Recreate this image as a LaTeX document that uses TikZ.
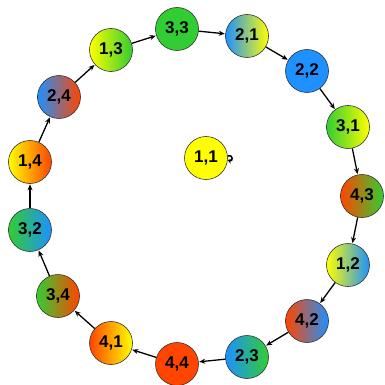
\documentclass[tikz,border=0pt]{standalone}
\usepackage{fontspec}
\setmainfont{Liberation Sans}
\usetikzlibrary{arrows.meta}
\definecolor{cA}{HTML}{FFFF00}
\definecolor{cB}{HTML}{1E90FF}
\definecolor{cC}{HTML}{32CD32}
\definecolor{cD}{HTML}{FF4500}
\tikzset{
  vtx/.style={circle, draw=black!80, line width=0.6pt, minimum size=43pt, inner sep=0pt, font=\fontsize{17}{17}\selectfont\bfseries},
  arr/.style={-{Stealth[length=6pt,width=5pt]}, line width=1.3pt, shorten >=0.5pt},
}
\begin{document}
\begin{tikzpicture}[x=1pt,y=-1pt]
\useasboundingbox (0,0) rectangle (385,385);
\node[vtx, fill=cA] (n11) at (206,158) {1,1};
\node[vtx, left color=cC, right color=cC] (n33) at (177,29) {3,3};
\node[vtx, left color=cB, right color=cA] (n21) at (247,36) {2,1};
\node[vtx, fill=cB] (n22) at (307,71) {2,2};
\node[vtx, left color=cC, right color=cA] (n31) at (348,127) {3,1};
\node[vtx, left color=cD, right color=cC] (n43) at (362,196) {4,3};
\node[vtx, left color=cA, right color=cB] (n12) at (348,265) {1,2};
\node[vtx, left color=cD, right color=cB] (n42) at (307,321) {4,2};
\node[vtx, left color=cB, right color=cC] (n23) at (247,357) {2,3};
\node[vtx, fill=cD] (n44) at (177,364) {4,4};
\node[vtx, left color=cD, right color=cA] (n41) at (111,343) {4,1};
\node[vtx, left color=cC, right color=cD] (n34) at (58,296) {3,4};
\node[vtx, left color=cC, right color=cB] (n32) at (30,230) {3,2};
\node[vtx, left color=cA, right color=cD] (n14) at (30,162) {1,4};
\node[vtx, left color=cB, right color=cD] (n24) at (59,97) {2,4};
\node[vtx, left color=cA, right color=cC] (n13) at (111,50) {1,3};
\draw[arr] (n13) -- (n33);
\draw[arr] (n33) -- (n21);
\draw[arr] (n21) -- (n22);
\draw[arr] (n22) -- (n31);
\draw[arr] (n31) -- (n43);
\draw[arr] (n43) -- (n12);
\draw[arr] (n12) -- (n42);
\draw[arr] (n42) -- (n23);
\draw[arr] (n23) -- (n44);
\draw[arr] (n44) -- (n41);
\draw[arr] (n41) -- (n34);
\draw[arr] (n34) -- (n32);
\draw[arr] (n32) -- (n14);
\draw[arr] (n14) -- (n24);
\draw[arr] (n24) -- (n13);
\draw[-{Stealth[length=4pt,width=5pt]}, line width=1.5pt] (n11.5) .. controls +(6,-2) and +(5,2) .. (n11.-5);
\end{tikzpicture}
\end{document}
